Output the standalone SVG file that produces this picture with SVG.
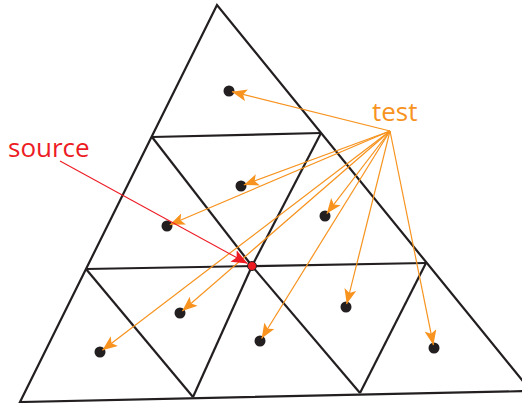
<svg xmlns="http://www.w3.org/2000/svg" width="522" height="403" viewBox="0 0 522 403">
<style>
.mesh{fill:none;stroke:#231F20;stroke-width:2.2;stroke-linejoin:miter}
.dot{fill:#231F20}
.test{fill:none;stroke:#F7931E;stroke-width:1.2;marker-end:url(#ao)}
.src{fill:none;stroke:#ED1C24;stroke-width:1.1;marker-end:url(#ar)}
.lbl{font-family:"Open Sans","Liberation Sans",sans-serif;font-size:26px}
</style>
<defs>
<marker id="ao" viewBox="0 0 15 12" refX="15" refY="6" markerWidth="15" markerHeight="12" markerUnits="userSpaceOnUse" orient="auto">
<path d="M0,0 L15,6 L0,12 L3.5,6 Z" fill="#F7931E"/>
</marker>
<marker id="ar" viewBox="0 0 16 13" refX="16" refY="6.5" markerWidth="16" markerHeight="13" markerUnits="userSpaceOnUse" orient="auto">
<path d="M0,0 L16,6.5 L0,13 L3.5,6.5 Z" fill="#ED1C24"/>
</marker>
</defs>
<rect width="522" height="403" fill="#fff"/>
<g id="mesh" class="mesh">
<polygon points="217,5 20,402 531,391"/>
<line x1="152" y1="137" x2="321" y2="133"/>
<line x1="86" y1="269" x2="426" y2="263"/>
<line x1="152" y1="137" x2="252" y2="266"/>
<line x1="321" y1="133" x2="252" y2="266"/>
<line x1="86" y1="269" x2="193" y2="397"/>
<line x1="252" y1="266" x2="193" y2="397"/>
<line x1="252" y1="266" x2="360" y2="393"/>
<line x1="426" y1="263" x2="360" y2="393"/>
</g>
<g id="d1"><circle class="dot" cx="229" cy="91" r="5.5"/></g>
<g id="d2"><circle class="dot" cx="241" cy="186" r="5.5"/></g>
<g id="d3"><circle class="dot" cx="167" cy="226" r="5.5"/></g>
<g id="d4"><circle class="dot" cx="325" cy="216" r="5.5"/></g>
<g id="d5"><circle class="dot" cx="180" cy="313" r="5.5"/></g>
<g id="d6"><circle class="dot" cx="100" cy="352" r="5.5"/></g>
<g id="d7"><circle class="dot" cx="346" cy="307" r="5.5"/></g>
<g id="d8"><circle class="dot" cx="260" cy="341" r="5.5"/></g>
<g id="d9"><circle class="dot" cx="434" cy="348" r="5.5"/></g>
<g id="test-label"><text class="lbl" x="372" y="121" fill="#F7931E">test</text></g>
<g id="source-label"><text class="lbl" x="8" y="157" fill="#ED1C24">source</text></g>
<g id="connectors">
<line class="test" x1="390" y1="131" x2="231.9" y2="91.7"/>
<line class="test" x1="390" y1="131" x2="243.8" y2="185"/>
<line class="test" x1="390" y1="131" x2="169.8" y2="224.8"/>
<line class="test" x1="390" y1="131" x2="326.8" y2="213.6"/>
<line class="test" x1="390" y1="131" x2="182.3" y2="311"/>
<line class="test" x1="390" y1="131" x2="102.4" y2="350.2"/>
<line class="test" x1="390" y1="131" x2="346.7" y2="304.1"/>
<line class="test" x1="390" y1="131" x2="261.6" y2="338.5"/>
<line class="test" x1="390" y1="131" x2="433.4" y2="345.1"/>
<line class="src" x1="60" y1="161" x2="247.6" y2="263.6"/>
</g>
<g id="source-point"><circle cx="252" cy="266" r="4.5" fill="#ED1C24" stroke="#231F20" stroke-width="1"/></g>
</svg>
